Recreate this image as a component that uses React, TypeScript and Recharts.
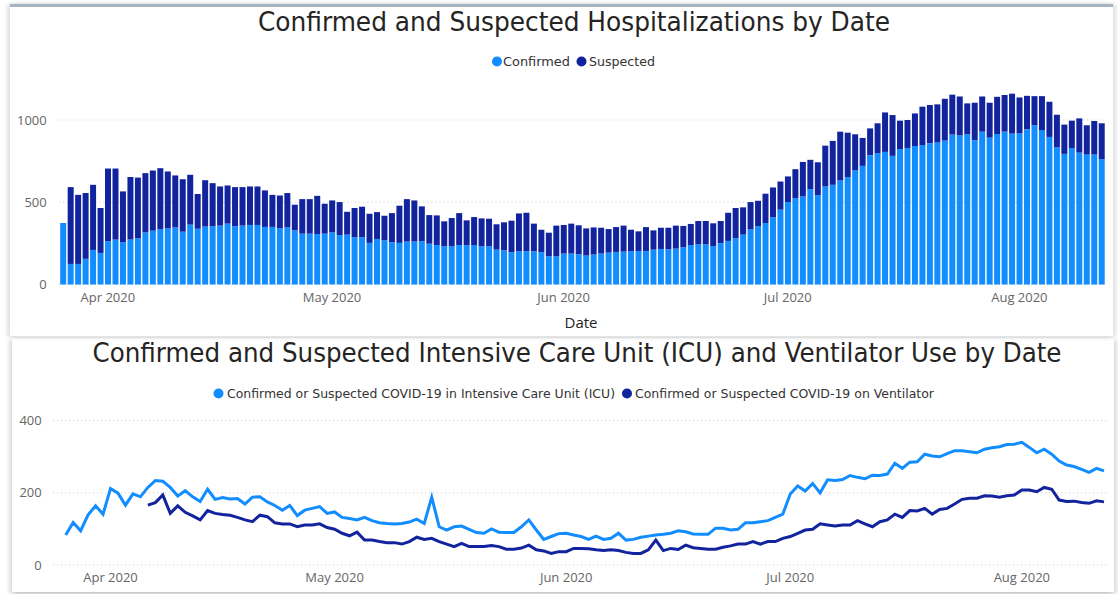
import { BarChart, Bar, LineChart, Line, XAxis, YAxis, CartesianGrid } from 'recharts';

// one row per day, Mar 26 2020 .. Aug 12 2020
const firstDay = Date.UTC(2020, 2, 26);
const dayCount = 140;
const dates: string[] = Array.from({ length: dayCount }, (_, i) =>
  new Date(firstDay + i * 86400000).toISOString().slice(0, 10)
);

const tickDates = ['2020-04-01', '2020-05-01', '2020-06-01', '2020-07-01', '2020-08-01'];
const tickLabels = ['Apr 2020', 'May 2020', 'Jun 2020', 'Jul 2020', 'Aug 2020'];
const hospTicks = [0, 500, 1000];
const icuTicks = [0, 200, 400];

// hospitalizations
const confirmed = [
  374, 125, 125, 156, 210, 192,
  263, 273, 257, 273, 281, 317, 327, 337, 341, 347, 321, 364, 339, 352, 354,
  358, 370, 354, 358, 362, 362, 350, 350, 343, 347, 329, 309, 309, 307, 309,
  317, 301, 303, 287, 287, 253, 277, 269, 257, 253, 261, 261, 263, 248, 240,
  232, 232, 240, 238, 240, 232, 232, 212, 208, 196, 202, 202, 202, 196, 172, 172,
  188, 188, 184, 176, 182, 188, 194, 198, 200, 202, 204, 204, 212, 216, 214,
  218, 226, 240, 244, 244, 234, 251, 265, 281, 303, 335, 354, 374, 408, 455,
  501, 525, 535, 580, 543, 596, 606, 632, 653, 693, 721, 786, 798, 806, 782,
  822, 830, 842, 846, 859, 863, 875, 911, 907, 913, 877, 929, 893, 915, 929, 917,
  919, 943, 968, 939, 897, 834, 794, 830, 802, 790, 790, 762,
];
const suspected = [
  0, 467, 420, 400, 396, 273,
  442, 432, 309, 380, 369, 360, 366, 370, 346, 316, 319, 303, 211, 282, 262,
  238, 232, 238, 234, 234, 234, 222, 195, 198, 209, 156, 210, 210, 232, 182,
  194, 200, 139, 178, 186, 177, 163, 149, 177, 226, 258, 250, 212, 174, 180,
  152, 172, 194, 152, 170, 170, 168, 154, 170, 192, 230, 234, 168, 137, 143, 186,
  174, 182, 176, 165, 165, 157, 143, 151, 158, 131, 119, 145, 117, 129, 131,
  140, 130, 128, 142, 142, 138, 135, 171, 184, 166, 166, 155, 178, 182, 171,
  156, 176, 210, 178, 200, 248, 267, 297, 270, 220, 170, 163, 182, 240, 248,
  174, 170, 198, 235, 232, 232, 254, 243, 236, 188, 228, 214, 212, 226, 223, 243,
  218, 204, 177, 206, 214, 198, 178, 166, 208, 178, 204, 218,
];

// ICU and ventilator
const icu = [
  83, 118, 95, 139, 164, 141, 212, 199, 166, 197, 189,
  215, 234, 232, 215, 191, 206, 189, 176, 210, 182,
  187, 183, 184, 169, 188, 189, 175, 165, 152, 165,
  137, 152, 157, 162, 143, 147, 132, 129, 125, 132, 123, 117,
  115, 114, 115, 119, 127, 115, 188, 106,
  97, 106, 108, 99, 90, 88, 100, 91, 90, 90,
  106, 125, 97, 71, 79, 87, 88, 83, 79, 71,
  80, 71, 74, 88, 69, 71, 77, 80, 83, 85,
  88, 95, 92, 86, 85, 85, 102, 102, 97, 99,
  117, 117, 120, 123, 132, 141, 197, 219, 205, 226,
  200, 236, 234, 237, 248, 243, 239, 249, 248, 252,
  282, 268, 285, 286, 307, 302, 300, 309, 317, 317,
  314, 311, 321, 325, 328, 334, 335, 340, 326, 311,
  321, 307, 288, 277, 273, 265, 257, 268, 261,
];
const ventilator = [
  null, null, null, null, null, null, null, null, null, null, null,
  166, 173, 194, 143, 164, 146, 136, 125, 151, 143,
  140, 138, 132, 125, 120, 138, 134, 117, 114, 114,
  106, 111, 111, 114, 104, 99, 88, 81, 91, 69, 69, 65,
  62, 62, 58, 65, 77, 71, 74, 65,
  58, 51, 60, 51, 51, 51, 54, 51, 44, 44,
  47, 55, 42, 39, 32, 37, 37, 46, 46, 45,
  42, 40, 42, 40, 35, 32, 32, 42, 69, 40,
  46, 43, 55, 48, 46, 44, 44, 49, 53, 58,
  58, 65, 58, 65, 65, 74, 79, 88, 97, 99,
  114, 111, 108, 111, 111, 123, 114, 106, 120, 125,
  141, 132, 151, 150, 157, 141, 154, 157, 169, 182,
  185, 185, 192, 191, 188, 192, 194, 208, 208, 203,
  215, 210, 180, 176, 177, 173, 171, 178, 175,
];

const hospRows = dates.map((date, i) => ({ date, confirmed: confirmed[i], suspected: suspected[i] }));
const icuRows = dates.map((date, i) => ({ date, icu: icu[i], ventilator: ventilator[i] }));

const LIGHT = '#118DFF';
const DARK = '#12239E';
const tickStyle = { fontSize: 13, fill: '#666666', fontFamily: '"Open Sans", "Noto Sans", sans-serif' };
const titleFont = '"DejaVu Sans Condensed", "DejaVu Sans", sans-serif';

const monthLabel = (d: string) => {
  const k = tickDates.indexOf(d);
  return k < 0 ? '' : tickLabels[k];
};

function Overlay() {
  return (
    <svg
      width={1118}
      height={594}
      style={{ position: 'absolute', left: 0, top: 0, pointerEvents: 'none' }}
    >
      <g fontFamily={titleFont} fill="#252423">
        <text x={574} y={31} fontSize={26} textAnchor="middle" textLength={632} lengthAdjust="spacingAndGlyphs">
          Confirmed and Suspected Hospitalizations by Date
        </text>
        <text x={577} y={362} fontSize={26} textAnchor="middle" textLength={969} lengthAdjust="spacingAndGlyphs">
          Confirmed and Suspected Intensive Care Unit (ICU) and Ventilator Use by Date
        </text>
      </g>
      <g fontFamily={titleFont} fontSize={13} fill="#333333">
        <circle cx={497} cy={61.5} r={5} fill={LIGHT} />
        <text x={503} y={66} textLength={67} lengthAdjust="spacingAndGlyphs">Confirmed</text>
        <circle cx={581.5} cy={61.5} r={5} fill={DARK} />
        <text x={589} y={66} textLength={66} lengthAdjust="spacingAndGlyphs">Suspected</text>

        <circle cx={218.5} cy={393.5} r={5} fill={LIGHT} />
        <text x={227} y={398} textLength={388} lengthAdjust="spacingAndGlyphs">
          Confirmed or Suspected COVID-19 in Intensive Care Unit (ICU)
        </text>
        <circle cx={627} cy={393.5} r={5} fill={DARK} />
        <text x={635} y={398} textLength={299} lengthAdjust="spacingAndGlyphs">
          Confirmed or Suspected COVID-19 on Ventilator
        </text>
      </g>
      <text x={581} y={328} fontSize={15} textAnchor="middle" fill="#252423" fontFamily='"Open Sans", sans-serif'>
        Date
      </text>
    </svg>
  );
}

export default function App() {
  return (
    <div style={{ position: 'absolute', left: 0, top: 0, width: 1118, height: 594, background: '#fff', overflow: 'hidden' }}>
      {/* visual frames */}
      <div
        style={{
          position: 'absolute', left: 10, top: 4, width: 1103, height: 333,
          borderTop: '3px solid #A6B3C0', boxSizing: 'border-box',
          boxShadow: '-3px 0 4px rgba(0,0,0,0.12), 3px 0 4px rgba(0,0,0,0.12)',
          borderBottom: '1px solid #E6E6E6',
        }}
      />
      <div
        style={{
          position: 'absolute', left: 12, top: 338, width: 1102, height: 254,
          boxShadow: '-3px 2px 4px rgba(0,0,0,0.14), 3px 2px 4px rgba(0,0,0,0.14)',
        }}
      />

      <div style={{ position: 'absolute', left: 0, top: 0 }}>
        <BarChart
          width={1118}
          height={340}
          data={hospRows}
          margin={{ top: 87.1, right: 12.7, bottom: 25.5, left: 9.3 }}
          barCategoryGap="12%"
        >
          <CartesianGrid
            vertical={false}
            horizontalValues={hospTicks}
            stroke="#C8C8C8"
            strokeDasharray="1 3"
          />
          <XAxis
            dataKey="date"
            interval={0}
            tickLine={false}
            axisLine={false}
            height={30}
            tick={tickStyle}
            tickFormatter={monthLabel}
          />
          <YAxis
            width={50}
            domain={[0, 1200]}
            ticks={hospTicks}
            tickLine={false}
            axisLine={false}
            tickMargin={6.6}
            tick={tickStyle}
          />
          <Bar dataKey="confirmed" stackId="h" fill={LIGHT} isAnimationActive={false} />
          <Bar dataKey="suspected" stackId="h" fill={DARK} isAnimationActive={false} />
        </BarChart>
      </div>

      <div style={{ position: 'absolute', left: 0, top: 340 }}>
        <LineChart
          width={1118}
          height={254}
          data={icuRows}
          margin={{ top: 80.7, right: 10, bottom: 0, left: 3 }}
        >
          <CartesianGrid
            vertical={false}
            horizontalValues={icuTicks}
            stroke="#C8C8C8"
            strokeDasharray="1 3"
          />
          <XAxis
            dataKey="date"
            interval={0}
            tickLine={false}
            axisLine={false}
            height={29}
            padding={{ left: 12.7, right: 4 }}
            tick={tickStyle}
            tickFormatter={monthLabel}
          />
          <YAxis
            width={50}
            domain={[0, 400]}
            ticks={icuTicks}
            tickLine={false}
            axisLine={false}
            tickMargin={5.3}
            tick={tickStyle}
          />
          <Line type="linear" dataKey="icu" stroke={LIGHT} strokeWidth={3} dot={false} isAnimationActive={false} />
          <Line type="linear" dataKey="ventilator" stroke={DARK} strokeWidth={3} dot={false} isAnimationActive={false} />
        </LineChart>
      </div>

      <Overlay />
    </div>
  );
}
